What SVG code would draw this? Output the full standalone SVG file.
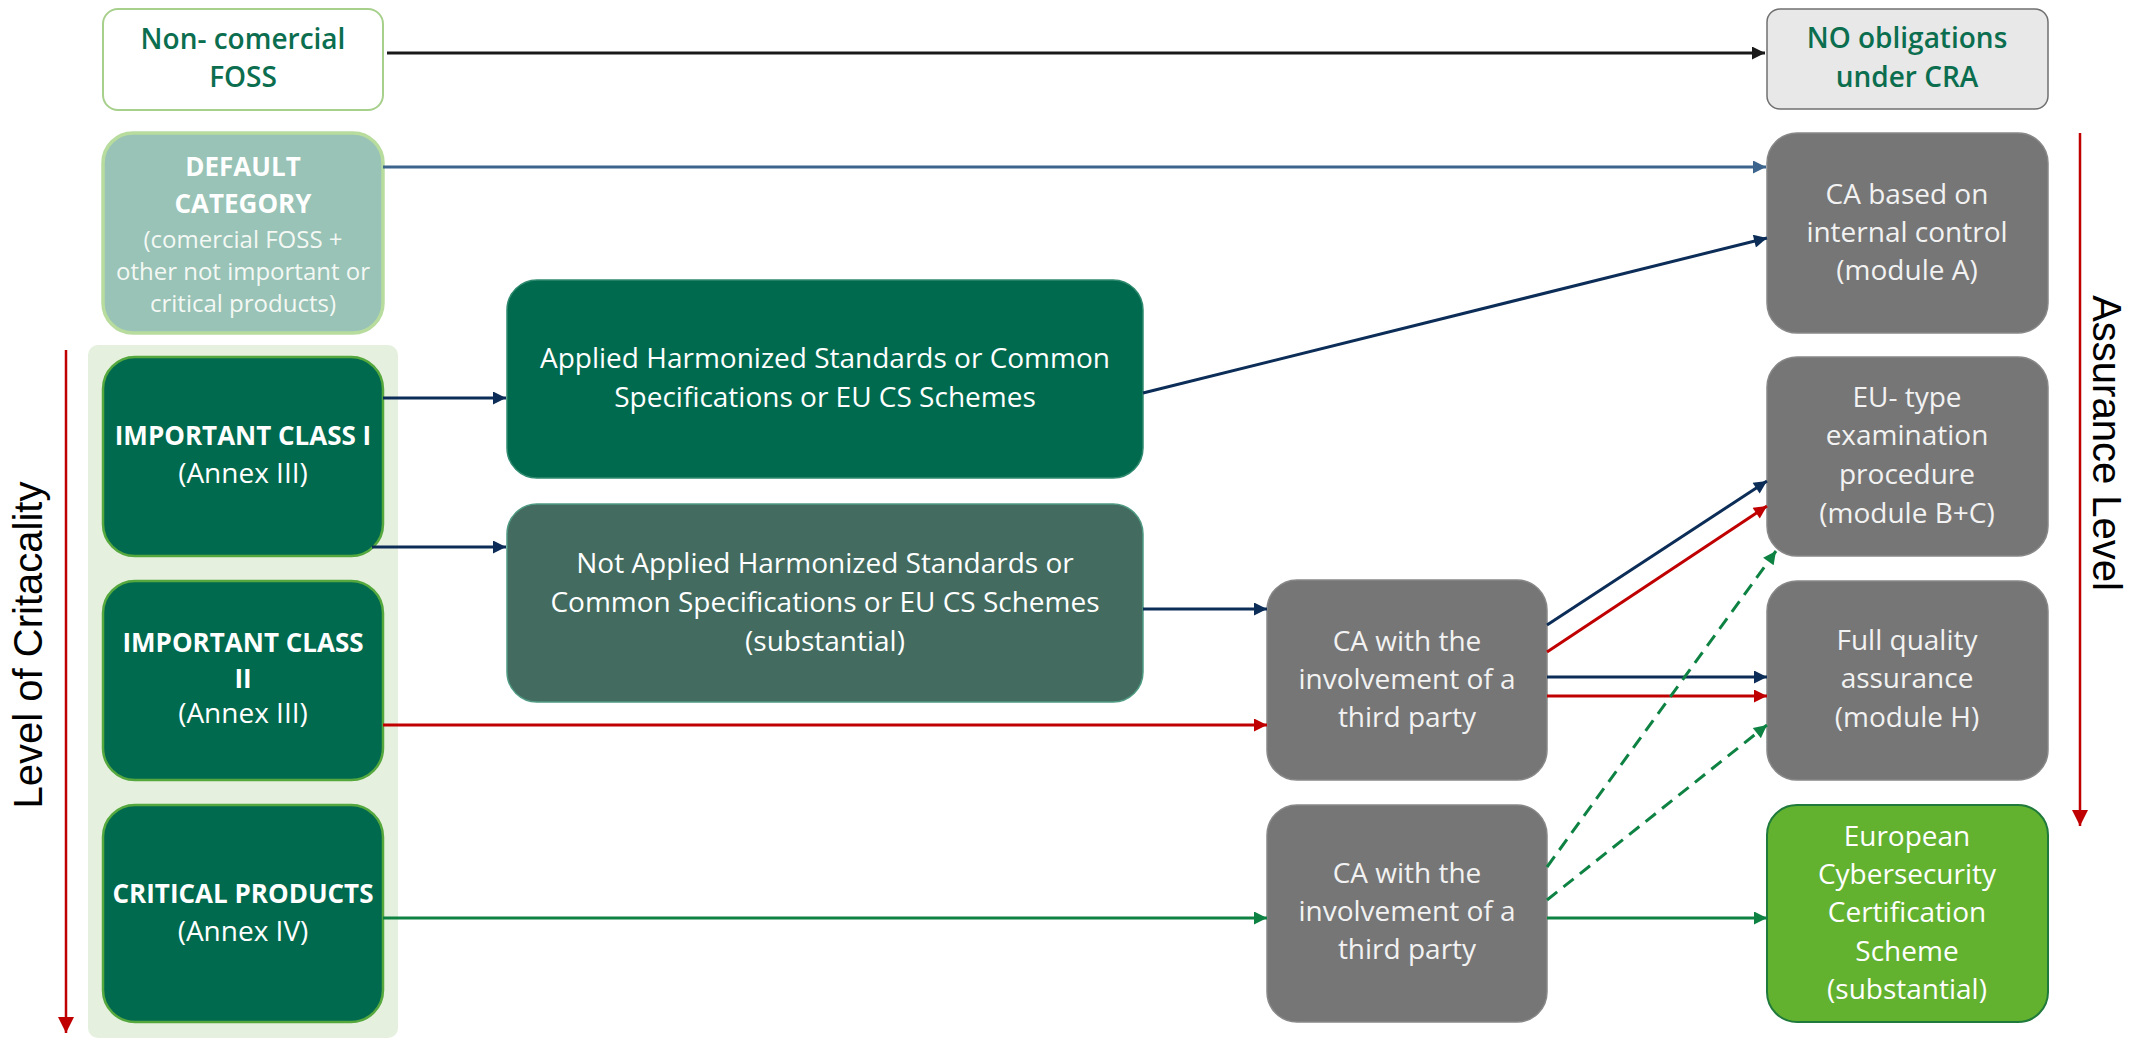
<svg xmlns="http://www.w3.org/2000/svg" width="2131" height="1038" viewBox="0 0 2131 1038">
  <style>
    text { font-family: "Open Sans", "Noto Sans", "DejaVu Sans", sans-serif; text-anchor: middle; }
    .t28 { font-size: 28px; fill: #ffffff; }
    .t24 { font-size: 24px; fill: #f4f8f4; }
    .b26 { font-size: 26px; font-weight: 700; fill: #ffffff; }
    .gt  { font-size: 28px; fill: #f2f2f2; }
    .gn  { font-size: 28px; font-weight: 600; fill: #0b6e4f; }
    .axis { font-family: "Liberation Sans", Arial, sans-serif; font-size: 40px; fill: #000000; }
    .crit { fill: #006a4e; stroke: #55a83e; stroke-width: 2.5; }
    .gray { fill: #767676; stroke: #888888; stroke-width: 1.5; }
    .ln { fill: none; stroke-width: 3; }
    .navy { stroke: #0c2d57; }
    .red { stroke: #c00000; }
    .green { stroke: #0e8242; }
    .dash { stroke-dasharray: 13 8; }
  </style>
  <defs>
    <marker id="ah-black" viewBox="0 0 10 10" refX="10" refY="5" markerWidth="15" markerHeight="13" markerUnits="userSpaceOnUse" orient="auto">
      <path d="M0,0 L10,5 L0,10 z" fill="#1a1a1a"/>
    </marker>
    <marker id="ah-steel" viewBox="0 0 10 10" refX="10" refY="5" markerWidth="15" markerHeight="13" markerUnits="userSpaceOnUse" orient="auto">
      <path d="M0,0 L10,5 L0,10 z" fill="#3c648c"/>
    </marker>
    <marker id="ah-navy" viewBox="0 0 10 10" refX="10" refY="5" markerWidth="15" markerHeight="13" markerUnits="userSpaceOnUse" orient="auto">
      <path d="M0,0 L10,5 L0,10 z" fill="#0c2d57"/>
    </marker>
    <marker id="ah-red" viewBox="0 0 10 10" refX="10" refY="5" markerWidth="15" markerHeight="13" markerUnits="userSpaceOnUse" orient="auto">
      <path d="M0,0 L10,5 L0,10 z" fill="#c00000"/>
    </marker>
    <marker id="ah-axis" viewBox="0 0 10 10" refX="10" refY="5" markerWidth="18" markerHeight="16" markerUnits="userSpaceOnUse" orient="auto">
      <path d="M0,0 L10,5 L0,10 z" fill="#c00000"/>
    </marker>
    <marker id="ah-green" viewBox="0 0 10 10" refX="10" refY="5" markerWidth="15" markerHeight="13" markerUnits="userSpaceOnUse" orient="auto">
      <path d="M0,0 L10,5 L0,10 z" fill="#0e8242"/>
    </marker>
  </defs>

  <rect width="2131" height="1038" fill="#ffffff"/>

  <!-- criticality axis -->
  <g id="criticality-axis">
    <line x1="66" y1="350" x2="66" y2="1033" stroke="#c00000" stroke-width="2.5" marker-end="url(#ah-axis)"/>
    <text class="axis" transform="translate(42,645) rotate(-90)">Level of Critacality</text>
  </g>

  <!-- assurance axis -->
  <g id="assurance-axis">
    <line x1="2080" y1="133" x2="2080" y2="826" stroke="#c00000" stroke-width="2.5" marker-end="url(#ah-axis)"/>
    <text class="axis" transform="translate(2093,443) rotate(90)">Assurance Level</text>
  </g>

  <!-- panel behind the product classes -->
  <rect id="class-panel" x="88" y="345" width="310" height="693" rx="10" fill="#e6f0de"/>

  <!-- left column -->
  <g id="non-commercial-foss">
    <rect x="103" y="9" width="280" height="101" rx="15" fill="#ffffff" stroke="#a8d08d" stroke-width="2"/>
    <text class="gn" x="243" y="49">Non- comercial</text>
    <text class="gn" x="243" y="87">FOSS</text>
  </g>

  <g id="default-category">
    <rect x="103" y="133" width="280" height="200" rx="30" fill="#98c3b6" stroke="#b8dc9e" stroke-width="3.5"/>
    <text class="b26" x="243" y="176">DEFAULT</text>
    <text class="b26" x="243" y="213">CATEGORY</text>
    <text class="t24" x="243" y="248">(comercial FOSS +</text>
    <text class="t24" x="243" y="280">other not important or</text>
    <text class="t24" x="243" y="312">critical products)</text>
  </g>

  <g id="important-class-1">
    <rect class="crit" x="103" y="357" width="280" height="199" rx="32"/>
    <text class="b26" x="243" y="445">IMPORTANT CLASS I</text>
    <text class="t28" x="243" y="483">(Annex III)</text>
  </g>

  <g id="important-class-2">
    <rect class="crit" x="103" y="581" width="280" height="199" rx="32"/>
    <text class="b26" x="243" y="652">IMPORTANT CLASS</text>
    <text class="b26" x="243" y="688">II</text>
    <text class="t28" x="243" y="723">(Annex III)</text>
  </g>

  <g id="critical-products">
    <rect class="crit" x="103" y="805" width="280" height="217" rx="32"/>
    <text class="b26" x="243" y="903">CRITICAL PRODUCTS</text>
    <text class="t28" x="243" y="941">(Annex IV)</text>
  </g>

  <!-- middle column -->
  <g id="applied-standards">
    <rect x="507" y="280" width="636" height="198" rx="30" fill="#006a4f" stroke="#2f8a6e" stroke-width="1.5"/>
    <text class="t28" x="825" y="368">Applied Harmonized Standards or Common</text>
    <text class="t28" x="825" y="407">Specifications or EU CS Schemes</text>
  </g>

  <g id="not-applied-standards">
    <rect x="507" y="504" width="636" height="198" rx="30" fill="#436b5f" stroke="#4f9a82" stroke-width="1.5"/>
    <text class="t28" x="825" y="573">Not Applied Harmonized Standards or</text>
    <text class="t28" x="825" y="612">Common Specifications or EU CS Schemes</text>
    <text class="t28" x="825" y="651">(substantial)</text>
  </g>

  <g id="third-party-1">
    <rect class="gray" x="1267" y="580" width="280" height="200" rx="30"/>
    <text class="gt" x="1407" y="651">CA with the</text>
    <text class="gt" x="1407" y="689">involvement of a</text>
    <text class="gt" x="1407" y="727">third party</text>
  </g>

  <g id="third-party-2">
    <rect class="gray" x="1267" y="805" width="280" height="217" rx="30"/>
    <text class="gt" x="1407" y="883">CA with the</text>
    <text class="gt" x="1407" y="921">involvement of a</text>
    <text class="gt" x="1407" y="959">third party</text>
  </g>

  <!-- right column -->
  <g id="no-obligations">
    <rect x="1767" y="9" width="281" height="100" rx="13" fill="#e8e8e8" stroke="#707070" stroke-width="1.5"/>
    <text class="gn" x="1907" y="48">NO obligations</text>
    <text class="gn" x="1907" y="87">under CRA</text>
  </g>

  <g id="module-a">
    <rect class="gray" x="1767" y="133" width="281" height="200" rx="30"/>
    <text class="gt" x="1907" y="204">CA based on</text>
    <text class="gt" x="1907" y="242">internal control</text>
    <text class="gt" x="1907" y="280">(module A)</text>
  </g>

  <g id="module-bc">
    <rect class="gray" x="1767" y="357" width="281" height="199" rx="30"/>
    <text class="gt" x="1907" y="407">EU- type</text>
    <text class="gt" x="1907" y="445">examination</text>
    <text class="gt" x="1907" y="484">procedure</text>
    <text class="gt" x="1907" y="523">(module B+C)</text>
  </g>

  <g id="module-h">
    <rect class="gray" x="1767" y="581" width="281" height="199" rx="30"/>
    <text class="gt" x="1907" y="650">Full quality</text>
    <text class="gt" x="1907" y="688">assurance</text>
    <text class="gt" x="1907" y="727">(module H)</text>
  </g>

  <g id="eu-certification">
    <rect x="1767" y="805" width="281" height="217" rx="30" fill="#63b22f" stroke="#1f7a3c" stroke-width="2"/>
    <text class="t28" x="1907" y="846">European</text>
    <text class="t28" x="1907" y="884">Cybersecurity</text>
    <text class="t28" x="1907" y="922">Certification</text>
    <text class="t28" x="1907" y="961">Scheme</text>
    <text class="t28" x="1907" y="999">(substantial)</text>
  </g>

  <!-- connectors -->
  <g id="connectors">
    <line class="ln" x1="387" y1="53" x2="1765" y2="53" stroke="#1a1a1a" marker-end="url(#ah-black)"/>
    <line class="ln" x1="383" y1="167" x2="1766" y2="167" stroke="#3c648c" marker-end="url(#ah-steel)"/>
    <line class="ln navy" x1="383" y1="398" x2="506" y2="398" marker-end="url(#ah-navy)"/>
    <line class="ln navy" x1="372" y1="547" x2="506" y2="547" marker-end="url(#ah-navy)"/>
    <line class="ln navy" x1="1143" y1="393" x2="1767" y2="238" marker-end="url(#ah-navy)"/>
    <line class="ln navy" x1="1143" y1="609" x2="1267" y2="609" marker-end="url(#ah-navy)"/>
    <line class="ln red" x1="383" y1="725" x2="1267" y2="725" marker-end="url(#ah-red)"/>
    <line class="ln navy" x1="1547" y1="625" x2="1767" y2="481" marker-end="url(#ah-navy)"/>
    <line class="ln red" x1="1547" y1="652" x2="1767" y2="506" marker-end="url(#ah-red)"/>
    <line class="ln navy" x1="1547" y1="677" x2="1767" y2="677" marker-end="url(#ah-navy)"/>
    <line class="ln red" x1="1547" y1="696" x2="1767" y2="696" marker-end="url(#ah-red)"/>
    <line class="ln green" x1="383" y1="918" x2="1267" y2="918" marker-end="url(#ah-green)"/>
    <line class="ln green" x1="1547" y1="918" x2="1767" y2="918" marker-end="url(#ah-green)"/>
    <line class="ln green dash" x1="1547" y1="867" x2="1776" y2="551" marker-end="url(#ah-green)"/>
    <line class="ln green dash" x1="1547" y1="900" x2="1767" y2="725" marker-end="url(#ah-green)"/>
  </g>
</svg>
